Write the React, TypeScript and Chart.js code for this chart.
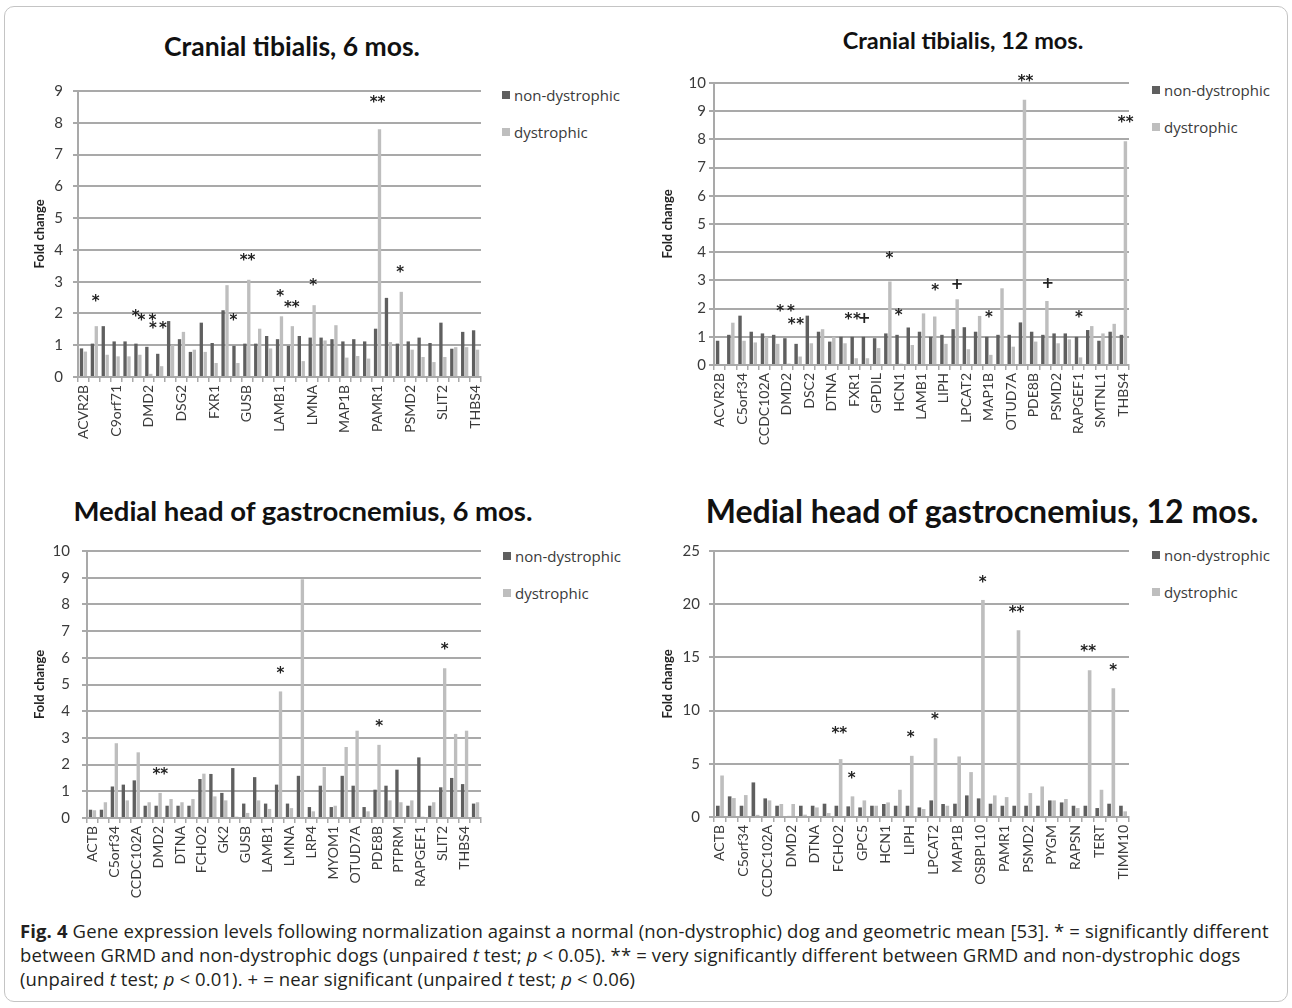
import React, { useEffect, useRef } from "react";
import { Chart, registerables } from "chart.js";
Chart.register(...registerables);

// ---------- DATA ----------
const ct6Genes = ["ACVR2B","C5orf34","C6orf142","C9orf71","CCDC102A","CNTN3","DMD2","DSC2","DSG1","DSG2","DTNA","FCHO2","FXR1","GK2","GPD1L","GUSB","HCN1","KCNJ2","LAMB1","LIPH","LMCD1","LMNA","LPCAT2","LRP4","MAP1B","MYOM1","OTUD7A","PAMR1","PDE8B","PLN","PSMD2","PTPRM","RAPGEF1","SLIT2","SMTNL1","TERT","THBS4"];
const ct6NonDys = [0.9,1.05,1.6,1.12,1.12,1.05,0.95,0.73,1.76,1.19,0.79,1.71,1.07,2.1,0.98,1.05,1.05,1.29,1.19,0.98,1.29,1.24,1.24,1.19,1.12,1.19,1.12,1.52,2.49,1.05,1.12,1.24,1.07,1.71,0.89,1.42,1.47];
const ct6Dys = [0.8,1.6,0.7,0.65,0.65,0.7,0.1,0.34,1.0,1.42,0.86,0.79,0.44,2.89,0.44,3.06,1.52,0.9,1.91,1.6,0.5,2.26,1.15,1.63,0.61,0.66,0.58,7.8,1.1,2.68,0.86,0.63,0.47,0.63,0.94,0.94,0.86];
const ct6Marks: [number, string, number][] = [[1.12,"*",2.47],[4.79,"*",2.0],[5.32,"*",1.87],[6.33,"*",1.87],[6.38,"*",1.63],[7.3,"*",1.63],[13.78,"*",1.87],[15.07,"**",3.78],[18.07,"*",2.64],[19.13,"**",2.3],[21.1,"*",2.99],[27.0,"**",8.74],[29.08,"*",3.38]];

const ct12Genes = ["ACVR2B","ANKRD1","C5orf34","C9orf71","CCDC102A","CNTN3","DMD2","DMPK","DSC2","DSG2","DTNA","FCHO2","FXR1","GK2","GPDIL","GUSB","HCN1","KCNJ2","LAMB1","LDB3","LIPH","LMNA","LPCAT2","LRP4","MAP1B","MYOM1","OTUD7A","PAMR1","PDE8B","PLN","PSMD2","PTPRM","RAPGEF1","SLIT2","SMTNL1","TERT","THBS4"];
const ct12NonDys = [0.86,1.07,1.75,1.18,1.12,1.07,0.95,0.75,1.75,1.18,0.83,1.0,1.0,1.0,0.95,1.12,1.07,1.33,1.18,1.0,1.07,1.27,1.34,1.18,1.0,1.07,1.07,1.51,1.18,1.07,1.12,1.12,1.0,1.24,0.86,1.18,1.07];
const ct12Dys = [0,1.5,0.86,0.8,1.0,0.75,0.05,0.3,0.77,1.27,1.0,0.77,0.24,0.24,0.6,2.96,0.05,0.71,1.83,1.72,0.75,2.33,0.56,1.74,0.36,2.72,0.65,9.41,0.83,2.27,0.77,0.91,0.27,1.38,1.12,1.46,7.93];
const ct12Marks: [number, string, number][] = [[5.39,"*",2.0],[6.35,"*",2.0],[6.43,"*",1.54],[7.18,"*",1.54],[11.49,"*",1.72],[12.24,"*",1.72],[12.89,"+",1.78],[15.15,"*",3.9],[15.96,"*",1.86],[19.23,"*",2.76],[21.17,"+",2.99],[24.0,"*",1.8],[27.27,"**",10.18],[29.26,"+",3.02],[32.03,"*",1.8],[36.2,"**",8.72]];

const gm6Genes = ["ACTB","ACVR2B","C5orf34","C9orf71","CCDC102A","CNTN3","DMD2","DSC2","DTNA","FBXO32","FCHO2","FXR1","GK2","GPC5","GUSB","HCN1","LAMB1","LIPH","LMNA","LPCAT2","LRP4","MAP1B","MYOM1","OSBPL10","OTUD7A","PAMR1","PDE8B","PSMD2","PTPRM","PYGM","RAPGEF1","RAPSN","SLIT2","TERT","THBS4","TIMM10"];
const gm6NonDys = [0.31,0.31,1.18,1.25,1.41,0.46,0.46,0.46,0.46,0.46,1.46,1.65,0.94,1.87,0.54,1.53,0.54,1.25,0.54,1.58,0.41,1.21,0.41,1.58,1.21,0.41,1.06,1.21,1.81,0.46,2.27,0.46,1.15,1.5,1.27,0.54];
const gm6Dys = [0.29,0.59,2.8,0.66,2.46,0.59,0.94,0.71,0.59,0.71,1.66,0.81,0.66,0.05,0.19,0.66,0.34,4.74,0.37,8.94,0.25,1.91,0.46,2.66,3.27,0.25,2.74,0.66,0.59,0.66,0.05,0.59,5.61,3.15,3.27,0.59];
const gm6Marks: [number, string, number][] = [[6.2,"**",1.75],[17.17,"*",5.55],[26.19,"*",3.55],[32.19,"*",6.45]];

const gm12Genes = ["ACTB","ACVR2B","C5orf34","C9orf71","CCDC102A","CNTN3","DMD2","DSC2","DTNA","FBXO32","FCHO2","GK2","GPC5","GUSB","HCN1","LAMB1","LIPH","LMNA","LPCAT2","LRP4","MAP1B","MYOM1","OSBPL10","OTUD7A","PAMR1","PDE8B","PSMD2","PTPRM","PYGM","RAPGEF1","RAPSN","SLIT2","TERT","THBS4","TIMM10"];
const gm12NonDys = [1.06,1.94,1.06,3.25,1.75,1.06,0.1,1.06,1.06,1.25,1.06,1.0,0.9,1.06,1.22,1.06,1.06,0.9,1.56,1.22,1.25,2.03,1.75,1.25,1.06,1.06,1.06,1.06,1.56,1.37,1.06,1.06,0.84,1.25,1.06];
const gm12Dys = [3.9,1.78,2.06,0.2,1.56,1.22,1.22,0.22,0.9,0.37,5.44,1.94,1.56,1.06,1.37,2.56,5.75,0.75,7.4,1.06,5.69,4.22,20.4,2.03,1.87,17.56,2.25,2.87,1.56,1.69,0.84,13.8,2.56,12.1,0.53];
const gm12Marks: [number, string, number][] = [[10.07,"**",8.19],[11.11,"*",3.9],[16.09,"*",7.81],[18.14,"*",9.5],[22.16,"*",22.4],[25.02,"**",19.53],[31.06,"**",15.84],[33.17,"*",14.1]];

const seriesNames = ["non-dystrophic", "dystrophic"];

// ---------- STYLE ----------
const DARK = "#5f5f5f";
const LIGHT = "#bebebe";
const GRID = "#a9a9a9";
const TXT = "#3a3a3a";
const PADR = 16;

type PanelCfg = {
  title: string; titleX: number; titleY: number; titleSize: number;
  labels: string[]; a: number[]; b: number[]; marks: [number, string, number][];
  every: number; max: number; step: number;
  left: number; top: number; w: number; h: number; padTop: number; yw: number; xh: number; tickPad: number;
  legX: number; legY: number;
};

const panels: PanelCfg[] = [
  { title: "Cranial tibialis, 6 mos.", titleX: 292, titleY: 47, titleSize: 26.5, labels: ct6Genes, a: ct6NonDys, b: ct6Dys, marks: ct6Marks, every: 3, max: 9, step: 1,
    left: 20, top: 80, w: 461, h: 367, padTop: 11, yw: 58, xh: 70, tickPad: 10, legX: 502, legY: 95 },
  { title: "Cranial tibialis, 12 mos.", titleX: 963, titleY: 42, titleSize: 23.5, labels: ct12Genes, a: ct12NonDys, b: ct12Dys, marks: ct12Marks, every: 2, max: 10, step: 1,
    left: 648, top: 70, w: 481, h: 375, padTop: 13, yw: 66, xh: 80, tickPad: 3, legX: 1152, legY: 90 },
  { title: "Medial head of gastrocnemius, 6 mos.", titleX: 303, titleY: 512, titleSize: 27.5, labels: gm6Genes, a: gm6NonDys, b: gm6Dys, marks: gm6Marks, every: 2, max: 10, step: 1,
    left: 20, top: 535, w: 461, h: 368, padTop: 16, yw: 67, xh: 85, tickPad: 12, legX: 503, legY: 556 },
  { title: "Medial head of gastrocnemius, 12 mos.", titleX: 982, titleY: 512, titleSize: 32, labels: gm12Genes, a: gm12NonDys, b: gm12Dys, marks: gm12Marks, every: 2, max: 25, step: 5,
    left: 648, top: 535, w: 481, h: 368, padTop: 16, yw: 66, xh: 86, tickPad: 9, legX: 1152, legY: 555 },
];

function Panel({ cfg }: { cfg: PanelCfg }) {
  const ref = useRef<HTMLCanvasElement>(null);
  useEffect(() => {
    const marksPlugin = {
      id: "marks",
      afterDatasetsDraw(chart: any) {
        const { ctx, scales } = chart;
        ctx.save();
        ctx.fillStyle = "#222";
        ctx.font = 'bold 15px "DejaVu Sans"';
        ctx.textAlign = "center";
        ctx.textBaseline = "middle";
        for (const [at, text, v] of cfg.marks) {
          ctx.fillText(text, scales.x.getPixelForValue(at), scales.y.getPixelForValue(v) + 4);
        }
        ctx.restore();
      },
    };
    const chart = new Chart(ref.current as HTMLCanvasElement, {
      type: "bar",
      data: {
        labels: cfg.labels,
        datasets: [
          { label: seriesNames[0], data: cfg.a, backgroundColor: DARK, categoryPercentage: 0.72, barPercentage: 0.85 },
          { label: seriesNames[1], data: cfg.b, backgroundColor: LIGHT, categoryPercentage: 0.72, barPercentage: 0.85 },
        ],
      },
      options: {
        animation: false,
        responsive: false,
        maintainAspectRatio: false,
        layout: { padding: { top: cfg.padTop, left: 0, right: PADR, bottom: 0 } },
        plugins: { legend: { display: false }, tooltip: { enabled: false } },
        scales: {
          x: {
            grid: { display: true, drawOnChartArea: false, drawTicks: true, tickLength: 5, color: GRID, lineWidth: 1.5, offset: true },
            border: { display: true, color: GRID, width: 2 },
            ticks: {
              autoSkip: false, maxRotation: 90, minRotation: 90, padding: 3, color: TXT,
              font: { family: "Lato", size: 14 },
              callback: (_v: any, i: number) => (i % cfg.every === 0 ? cfg.labels[i] : ""),
            },
            afterFit: (s: any) => { s.height = cfg.xh; s.paddingLeft = 0; s.paddingRight = 0; },
          },
          y: {
            min: 0, max: cfg.max,
            ticks: { stepSize: cfg.step, padding: cfg.tickPad, color: TXT, font: { family: "Lato", size: 15 } },
            grid: { color: GRID, lineWidth: 2, tickLength: 5 },
            border: { display: true, color: GRID, width: 2 },
            title: { display: true, text: "Fold change", color: "#222", font: { family: "Lato", weight: "bold", size: 13 }, padding: { top: 12, bottom: 0 } },
            afterFit: (s: any) => { s.width = cfg.yw; s.paddingTop = 0; s.paddingBottom = 0; },
          },
        },
      } as any,
      plugins: [marksPlugin],
    });
    return () => chart.destroy();
  }, [cfg]);
  const cw = cfg.w + PADR;
  return (
    <>
      <div style={{ position: "absolute", left: cfg.titleX - 350, top: cfg.titleY - cfg.titleSize / 2 - 1, width: 700, textAlign: "center",
        font: `bold ${cfg.titleSize}px Lato`, lineHeight: `${cfg.titleSize}px`, color: "#111", whiteSpace: "nowrap" }}>{cfg.title}</div>
      <canvas ref={ref} width={cw} height={cfg.h} style={{ position: "absolute", left: cfg.left, top: cfg.top, width: cw, height: cfg.h }} />
      {seriesNames.map((n, k) => (
        <div key={n} style={{ position: "absolute", left: cfg.legX, top: cfg.legY + k * 37 - 10, height: 20, display: "flex", alignItems: "center",
          font: '15px "Open Sans"', color: "#3a3a3a", whiteSpace: "nowrap" }}>
          <span style={{ display: "inline-block", width: 8, height: 8, background: k === 0 ? DARK : LIGHT, marginRight: 4 }} />
          {n}
        </div>
      ))}
    </>
  );
}

export default function App() {
  return (
    <div style={{ position: "absolute", left: 0, top: 0, width: 1292, height: 1008, background: "#fff", overflow: "hidden" }}>
      <div style={{ position: "absolute", left: 4, top: 6, width: 1282, height: 994, border: "1px solid #c4c4c4", borderRadius: 10 }} />
      {panels.map((p) => <Panel key={p.title} cfg={p} />)}
      <div style={{ position: "absolute", left: 20, top: 919, width: 1262, font: '18.5px "Open Sans"', letterSpacing: "0.12px", lineHeight: "24px", color: "#231f20", whiteSpace: "nowrap" }}>
        <div><b>Fig. 4</b> Gene expression levels following normalization against a normal (non-dystrophic) dog and geometric mean [53]. * = significantly different</div>
        <div>between GRMD and non-dystrophic dogs (unpaired <i>t</i> test; <i>p</i> &lt; 0.05). ** = very significantly different between GRMD and non-dystrophic dogs</div>
        <div>(unpaired <i>t</i> test; <i>p</i> &lt; 0.01). + = near significant (unpaired <i>t</i> test; <i>p</i> &lt; 0.06)</div>
      </div>
    </div>
  );
}
